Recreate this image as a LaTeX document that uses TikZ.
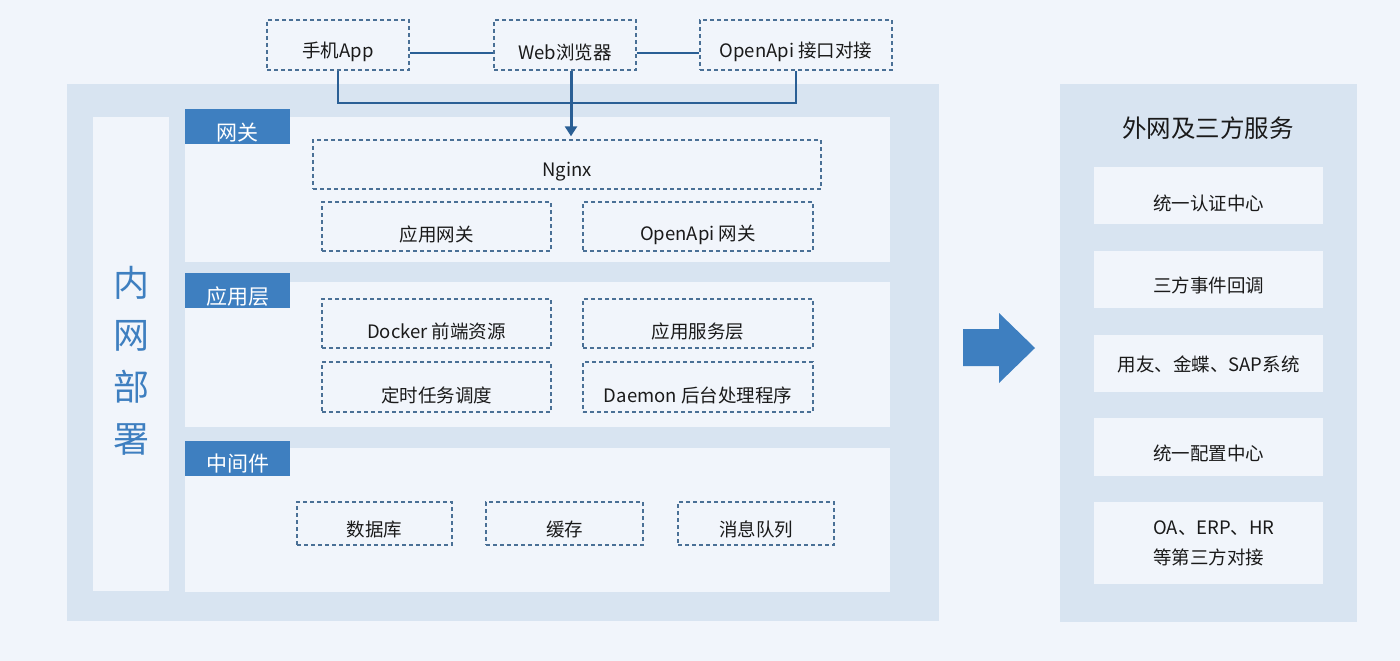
\documentclass[tikz,border=0pt]{standalone}
\usepackage{fontspec}
\setmainfont{Noto Sans CJK SC}
\usetikzlibrary{arrows.meta,calc}
\definecolor{bgc}{HTML}{F1F5FB}
\definecolor{panelc}{HTML}{D8E4F1}
\definecolor{tabc}{HTML}{3E7FC0}
\definecolor{dashc}{HTML}{4A7096}
\definecolor{linec}{HTML}{2A5F95}
\definecolor{txtc}{HTML}{1A1A1A}
\begin{document}
\begin{tikzpicture}[x=1pt,y=-1pt,
  dbox/.style={draw=dashc, line width=1.4pt, dash pattern=on 4pt off 3pt, inner sep=0pt, minimum height=49pt},
  wbox/.style={fill=bgc, inner sep=0pt, minimum width=229pt},
  tabbox/.style={fill=tabc, inner sep=0pt, minimum width=105pt, minimum height=35pt},
  lbl/.style={text=txtc, font=\fontsize{18.5}{22}\selectfont, inner sep=0pt},
  tx/.style 2 args={label={[lbl,yshift=-#1]center:#2}},
  tabtx/.style={label={[text=white, font=\fontsize{21}{24}\selectfont, inner sep=0pt, yshift=-6pt]center:#1}},
  conn/.style={draw=linec, line width=2.4pt},
]
% background
\fill[bgc] (0,0) rectangle (1400,661);
\useasboundingbox (0,0) rectangle (1400,661);

% left panel
\fill[panelc] (67,84) rectangle (939,621);
\fill[bgc] (93,117) rectangle (169,591);
\fill[bgc] (185,117) rectangle (890,262);
\fill[bgc] (185,282) rectangle (890,427);
\fill[bgc] (185,448) rectangle (890,592);

\node[text=tabc, font=\fontsize{36}{52}\selectfont, align=center, inner sep=0pt] (nw) at (131,361) {内\\网\\部\\署};

% tabs
\node[tabbox, tabtx=网关] (tab1) at (237.5,126.5) {};
\node[tabbox, tabtx=应用层] (tab2) at (237.5,290.5) {};
\node[tabbox, tabtx=中间件] (tab3) at (237.5,458) {};

% top clients
\node[dbox, minimum width=142pt, minimum height=50pt, tx={7pt}{手机App}] (app) at (338,45) {};
\node[dbox, minimum width=142pt, minimum height=50pt, tx={7pt}{Web浏览器}] (web) at (565,45) {};
\node[dbox, minimum width=192pt, minimum height=50pt, tx={7pt}{OpenApi 接口对接}] (oapi) at (796,45) {};

% gateway layer
\node[dbox, minimum width=508pt, tx={7.5pt}{Nginx}] (nginx) at (567,164.5) {};
\node[dbox, minimum width=229pt, tx={8pt}{应用网关}] (gw1) at (436.5,226.5) {};
\node[dbox, minimum width=230pt, tx={8pt}{OpenApi 网关}] (gw2) at (698,226.5) {};

% application layer
\node[dbox, minimum width=229pt, tx={8pt}{Docker 前端资源}] (docker) at (436.5,323.5) {};
\node[dbox, minimum width=230pt, tx={8pt}{应用服务层}] (appsvc) at (698,323.5) {};
\node[dbox, minimum width=229pt, minimum height=50pt, tx={8pt}{定时任务调度}] (cron) at (436.5,387) {};
\node[dbox, minimum width=230pt, minimum height=50pt, tx={8pt}{Daemon 后台处理程序}] (daemon) at (698,387) {};

% middleware layer
\node[dbox, minimum width=155pt, minimum height=43pt, tx={6pt}{数据库}] (db) at (374.5,523.5) {};
\node[dbox, minimum width=157pt, minimum height=43pt, tx={6pt}{缓存}] (cache) at (564.5,523.5) {};
\node[dbox, minimum width=156pt, minimum height=43pt, tx={6pt}{消息队列}] (mq) at (756,523.5) {};

% connectors
\draw[conn] (app.east |- 0,53) coordinate (a1) -- (web.west |- a1);
\draw[conn] (web.east |- 0,53) coordinate (a2) -- (oapi.west |- a2);
\draw[conn] (app.south) -- ++(0,32) -| (oapi.south);
\draw[draw=linec, line width=3pt, -{Triangle[length=10pt,width=12pt]}] (web.south -| 571,0) -- ($(nginx.north -| 571,0)+(0,-3)$);

% big arrow
\fill[tabc] (963,329) -- (999,329) -- (999,313) -- (1035,348) -- (999,383) -- (999,366) -- (963,366) -- cycle;

% right panel
\fill[panelc] (1060,84) rectangle (1357,622);
\node[text=txtc, font=\fontsize{24.5}{28}\selectfont, inner sep=0pt] (title) at (1208,128) {外网及三方服务};
\node[wbox, minimum height=57pt, tx={7.5pt}{统一认证中心}] (r1) at (1208.5,195.5) {};
\node[wbox, minimum height=57pt, tx={5.5pt}{三方事件回调}] (r2) at (1208.5,279.5) {};
\node[wbox, minimum height=57pt, tx={0.5pt}{用友、金蝶、SAP系统}] (r3) at (1208.5,363.5) {};
\node[wbox, minimum height=58pt, tx={6pt}{统一配置中心}] (r4) at (1208.5,447) {};
\node[wbox, minimum height=82pt] (r5) at (1208.5,543) {};
\node[lbl, align=left, anchor=west, font=\fontsize{18.5}{30}\selectfont] (r5t) at (1153,543) {OA、ERP、HR\\等第三方对接};
\end{tikzpicture}
\end{document}
